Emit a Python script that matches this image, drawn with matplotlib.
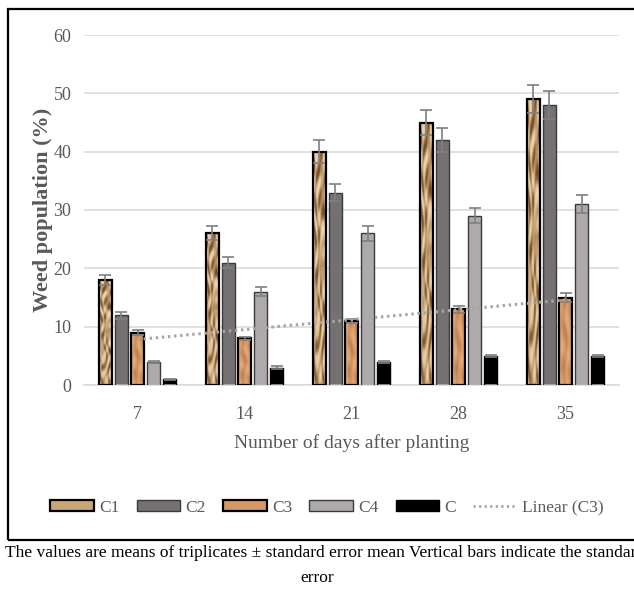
import numpy as np
import matplotlib
matplotlib.use("Agg")
import matplotlib.pyplot as plt
from matplotlib.patches import Rectangle, Patch
from matplotlib.lines import Line2D
from matplotlib.colors import LinearSegmentedColormap

# ---------------- data ----------------
days = ["7", "14", "21", "28", "35"]
series_names = ["C1", "C2", "C3", "C4", "C"]
c1 = [18, 26, 40, 45, 49]
c2 = [12, 21, 33, 42, 48]
c3 = [9, 8, 11, 13, 15]
c4 = [4, 16, 26, 29, 31]
c0 = [1, 3, 4, 5, 5]
c1_err = [0.8, 1.2, 2.0, 2.2, 2.4]
c2_err = [0.6, 1.0, 1.5, 2.0, 2.4]
c3_err = [0.4, 0.3, 0.4, 0.6, 0.7]
c4_err = [0.2, 0.8, 1.3, 1.3, 1.5]
c0_err = [0.1, 0.2, 0.2, 0.2, 0.2]

values = [c1, c2, c3, c4, c0]
errors = [c1_err, c2_err, c3_err, c4_err, c0_err]

# ---------------- style ----------------
face = ["#C9A57A", "#767171", "#D39A68", "#AEAAAA", "#000000"]
edges = ["#000000", "#3A3A3A", "#000000", "#3A3A3A", "#000000"]
elw = [1.6, 1.0, 1.6, 1.0, 1.0]
textc = "#595959"
serif = ["Liberation Serif", "DejaVu Serif"]

W, H = 634, 590
fig = plt.figure(figsize=(W / 100, H / 100), dpi=100)
fig.patch.set_facecolor("white")

ax = fig.add_axes([84 / W, 1 - 385 / H, (619 - 84) / W, 350 / H])

x = np.arange(len(days))
step = 0.15
width = 0.122
offsets = [-2 * step, -step, 0, step, 2 * step]

# wood-like textures (purely decorative fills)
def tex_c1(n=200, m=40):
    yy, xx = np.mgrid[0:n, 0:m]
    v = np.sin(xx * 0.35 + 2.8 * np.sin(yy * 0.09) + 1.5 * np.sin(yy * 0.031 + xx * 0.2))
    v2 = np.sin(yy * 0.22 + 3 * np.sin(xx * 0.15))
    return 0.55 * v + 0.45 * v2

def tex_c3(n=200, m=40):
    yy, xx = np.mgrid[0:n, 0:m]
    v = 0.6 * np.sin(xx * 0.3 + 1.2 * np.sin(yy * 0.05)) + 0.4 * np.sin(yy * 0.08 + xx * 0.1)
    return v

cmap_c1 = LinearSegmentedColormap.from_list("c1", ["#6E4A28", "#A57C4E", "#D8BB92", "#EBD6B4"])
cmap_c3 = LinearSegmentedColormap.from_list("c3", ["#C0804E", "#CD9060", "#D89E6E", "#E0AC80"])

for i, (vals, errs) in enumerate(zip(values, errors)):
    pos = x + offsets[i]
    bars = ax.bar(pos, vals, width, color=face[i], edgecolor="none", zorder=2)
    if i in (0, 2):
        t = tex_c1() if i == 0 else tex_c3()
        cm = cmap_c1 if i == 0 else cmap_c3
        for b in bars:
            im = ax.imshow(t, cmap=cm, extent=[b.get_x(), b.get_x() + b.get_width(), 0, b.get_height()],
                           aspect="auto", origin="lower", zorder=2.5, interpolation="bilinear")
            im.set_clip_path(b)
    ax.bar(pos, vals, width, fill=False, edgecolor=edges[i], linewidth=elw[i], zorder=3)
    ax.errorbar(pos, vals, yerr=errs, fmt="none", ecolor="#7F7F7F", elinewidth=1.2,
                capsize=4.5, capthick=1.2, zorder=4)

# linear trendline for C3
coef = np.polyfit(x, c3, 1)
ax.plot(x, np.polyval(coef, x), color="#A6A6A6", linewidth=2.2,
        linestyle=(0, (0.8, 1.2)), zorder=5)

ax.set_xlim(-0.5, 4.5)
ax.set_ylim(0, 60)
ax.set_yticks(np.arange(0, 61, 10))
ax.set_xticks(x)
ax.set_xticklabels(days)
ax.grid(axis="y", color="#D9D9D9", linewidth=1.1, zorder=0)
ax.set_axisbelow(True)
for s in ["top", "right", "left"]:
    ax.spines[s].set_visible(False)
ax.spines["bottom"].set_color("#D9D9D9")
ax.spines["bottom"].set_linewidth(1.1)
ax.tick_params(axis="both", length=0, colors=textc, labelsize=13)
ax.tick_params(axis="y", pad=9)
ax.tick_params(axis="x", pad=15)
for lab in ax.get_xticklabels() + ax.get_yticklabels():
    lab.set_family(serif)

ax.set_xlabel("Number of days after planting", family=serif, fontsize=14, color=textc, labelpad=8)
ax.set_ylabel("Weed population (%)", family=serif, fontsize=16, fontweight="bold", color=textc)
ax.yaxis.set_label_coords(-(84 - 53) / (619 - 84), 0.5)

# legend
handles = [Patch(facecolor=face[i], edgecolor=edges[i], linewidth=elw[i]) for i in range(5)]
handles.append(Line2D([0], [0], color="#A6A6A6", linewidth=2.0, linestyle=(0, (0.8, 1.2))))
labels = series_names + ["Linear (C3)"]
leg = fig.legend(handles, labels, loc="center", bbox_to_anchor=(327 / W, 1 - 508 / H), ncol=6,
                 frameon=False, handlelength=2.5, handleheight=0.58, columnspacing=1.0, handletextpad=0.3,
                 prop={"family": serif, "size": 12.5})
for t in leg.get_texts():
    t.set_color(textc)

# outer border
fig.patches.append(Rectangle((8 / W, 1 - 540 / H), 700 / W, (540 - 9) / H, transform=fig.transFigure,
                             fill=False, edgecolor="#000000", linewidth=1.6, zorder=10))

# caption
fig.text(5 / W, 1 - 553 / H,
         "The values are means of triplicates \u00b1 standard error mean Vertical bars indicate the standard",
         ha="left", va="center", family=serif, fontsize=12.5, color="#000000")
fig.text(317 / W, 1 - 578 / H, "error", ha="center", va="center", family=serif, fontsize=12.5, color="#000000")

fig.savefig("out.png", dpi=100)
